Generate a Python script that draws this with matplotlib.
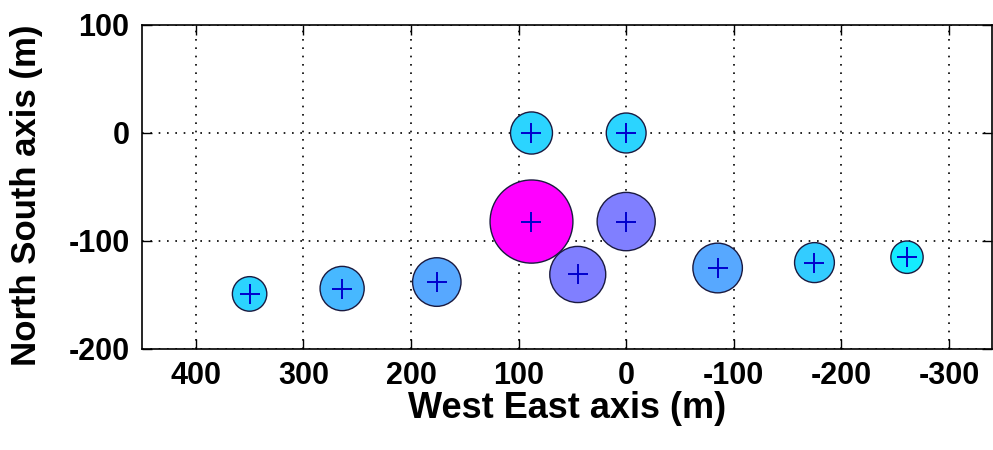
import numpy as np
import matplotlib.pyplot as plt
from matplotlib.patches import Circle

# station positions (m), circle radii (m) and colour values (cool colormap)
west_east = [350, 264, 176, 88, 45, 0, 88, 0, -85, -175, -261]
north_south = [-149, -144, -138, -82, -131, -82, 0, 0, -125, -120, -115]
radius = [16, 20.5, 22.5, 38.5, 26, 27, 19.5, 18.5, 23, 18.5, 15]
color_value = [0.17, 0.28, 0.34, 1.0, 0.5, 0.5, 0.17, 0.17, 0.34, 0.2, 0.08]

x_ticks = [400, 300, 200, 100, 0, -100, -200, -300]
y_ticks = [-200, -100, 0, 100]

plt.rcParams['font.family'] = ['Liberation Sans', 'DejaVu Sans']
plt.rcParams['axes.unicode_minus'] = False

fig = plt.figure(figsize=(9.93, 4.5), dpi=100)
ax = fig.add_axes([142 / 993, 1 - 349 / 450, (992 - 142) / 993, 324 / 450])

for x, y, r, v in zip(west_east, north_south, radius, color_value):
    ax.add_patch(Circle((x, y), r, facecolor=plt.cm.cool(v),
                        edgecolor='#1a1a40', linewidth=1.0, zorder=3))
ax.plot(west_east, north_south, '+', color='#0000cc', markersize=15,
        markeredgewidth=1.4, zorder=4)

ax.set_xlim(450, -340)
ax.set_ylim(-200, 100)
ax.set_xticks(x_ticks)
ax.set_yticks(y_ticks)
ax.grid(True, color='black', linestyle=(0, (1, 4)), linewidth=1.2)
ax.tick_params(direction='in', length=7, width=1, top=True, right=True,
               labelsize=22, pad=9)
for lab in ax.get_xticklabels() + ax.get_yticklabels():
    lab.set_fontweight('bold')
for s in ax.spines.values():
    s.set_linewidth(1.2)

ax.set_xlabel('West East axis (m)', fontsize=26, fontweight='bold', labelpad=0)
ax.set_ylabel('North South axis (m)', fontsize=25, fontweight='bold')
ax.yaxis.set_label_coords((43 - 142) / 850, (349 - 195) / 324)

fig.savefig('out.png', dpi=100)
